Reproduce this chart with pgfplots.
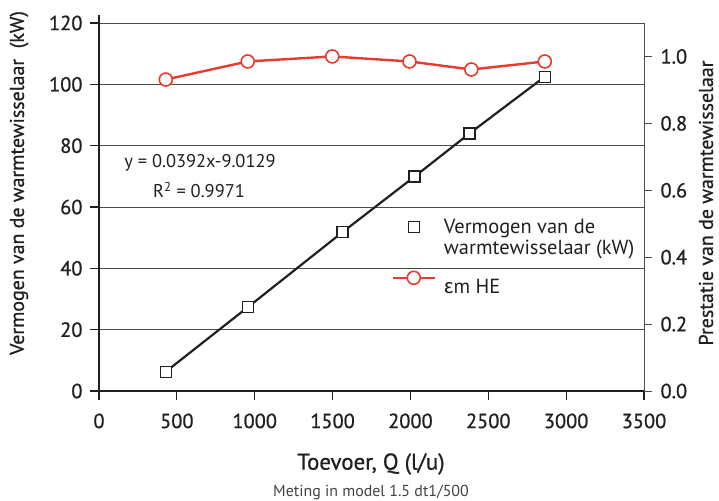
\documentclass[border=0pt]{standalone}
\usepackage{fontspec}
\setmainfont{PT Sans}
\newfontfamily\medfont{PT Sans}[FakeBold=0.8]
\newfontfamily\grk{Fira Sans}
\usepackage{pgfplots}
\pgfplotsset{compat=1.18}
\definecolor{redHE}{HTML}{E63B2E}
\definecolor{ink}{HTML}{231F20}
\definecolor{gridc}{HTML}{4A4A4A}
\pgfplotsset{
  sqlegend/.style={legend image code/.code={\draw[##1, only marks] plot coordinates {(21bp,0bp)};}},
  linelegend/.style={legend image code/.code={\draw[mark repeat=2,mark phase=2,##1] plot coordinates {(0bp,0bp) (21bp,0bp) (42bp,0bp)};}},
}

\begin{document}
\begin{tikzpicture}[x=1bp,y=1bp]
\pgfplotsset{
  every axis/.append style={
    scale only axis, width=545bp, height=368bp,
    xmin=0, xmax=3500,
    tick label style={font=\medfont\fontsize{20.5}{22}\selectfont, text=ink},
    /pgf/number format/assume math mode=true,
    /pgf/number format/1000 sep={},
    axis line style={-},
    tick align=outside,
  }
}
% --- left scale: heat exchanger power ---
\begin{axis}[
  axis x line*=bottom, axis y line*=left,
  ymin=0, ymax=120, ytick={0,20,40,60,80,100,120},
  xtick={0,500,1000,1500,2000,2500,3000,3500},
  ymajorgrids, grid style={gridc, line width=0.9bp},
  x axis line style={line width=2.6bp, ink},
  y axis line style={line width=2.6bp, ink, shorten >=-8bp},
  tick style={ink, line width=1.2bp},
  major tick length=9bp,
  xticklabel style={yshift=-10bp},
  yticklabel style={xshift=-4bp},
  clip=false,
]
\addplot[ink, line width=2.2bp, mark=square*, mark size=5.5bp,
  mark options={fill=white, line width=1.3bp}]
  coordinates {(429,6.3) (955,27.3) (1564,51.8) (2026,69.9) (2380,84.0) (2863,102.5)};
\end{axis}

% --- right scale: performance ---
\begin{axis}[
  axis x line=none, axis y line*=right,
  ymin=0, ymax=1.1, ytick={0,0.2,0.4,0.6,0.8,1.0},
  yticklabel style={xshift=5bp, /pgf/number format/fixed,
    /pgf/number format/fixed zerofill, /pgf/number format/precision=1},
  y axis line style={line width=0.8bp, gridc},
  tick style={gridc, line width=0.8bp},
  major tick length=8bp,
  clip=false,
  legend style={at={(rel axis cs:0.531,0.478)}, anchor=north west,
    draw=none, fill=none, font=\fontsize{20.5}{22}\selectfont,
    row sep=1bp, column sep=6bp, text=ink},
  legend cell align=left,
]
\addlegendimage{ink, line width=1.3bp, mark=square, mark size=5.5bp, sqlegend}
\addlegendentry{Vermogen van de}
\addlegendimage{empty legend}
\addlegendentry{warmtewisselaar (kW)}
\addplot[redHE, line width=2.4bp, mark=*, mark size=6.5bp,
  mark options={fill=white, draw=redHE, line width=1.6bp}, linelegend]
  coordinates {(429,0.931) (955,0.985) (1498,1.000) (1994,0.985) (2391,0.961) (2863,0.985)};
\addlegendentry{\rule{0pt}{32bp}{\grk ɛ}m HE}
\end{axis}

% labels
\node[rotate=90, font=\medfont\fontsize{20}{22}\selectfont, text=ink] at (-80,208) {Vermogen van de warmtewisselaar\ \ (kW)};
\node[rotate=90, font=\medfont\fontsize{20}{22}\selectfont, text=ink] at (607,188) {Prestatie van de warmtewisselaar};
\node[font=\medfont\fontsize{23}{25}\selectfont, text=ink] at (272,-73) {Toevoer, Q (l/u)};
\node[font=\fontsize{16}{18}\selectfont, text=ink!85] at (272,-102) {Meting in model 1.5 dt1/500};
\node[font=\fontsize{18.5}{20}\selectfont, text=ink] at (101,228) {y = 0.0392x-9.0129};
\node[font=\fontsize{18.5}{20}\selectfont, text=ink] at (100,201) {R\textsuperscript{2} = 0.9971};

\pgfresetboundingbox
\path (-99,-110) rectangle (620,391);
\end{tikzpicture}
\end{document}
